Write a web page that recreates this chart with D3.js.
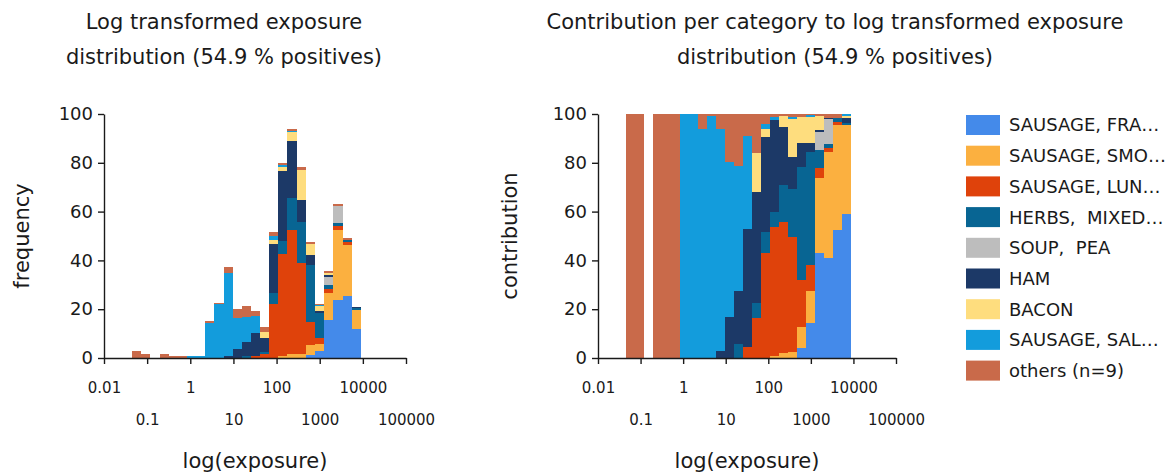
<!DOCTYPE html>
<html>
<head>
<meta charset="utf-8">
<script src="https://cdn.jsdelivr.net/npm/d3@7"></script>
<style>
  body { margin: 0; background: #fff; }
  text { font-family: "DejaVu Sans", Verdana, sans-serif; fill: #1a1a1a; }
</style>
</head>
<body>
<svg id="chart" width="1169" height="472"></svg>
<script>
// categories, bottom of the stack first (same order as the legend)
var categories = ["SAUSAGE, FRA…", "SAUSAGE, SMO…", "SAUSAGE, LUN…", "HERBS,  MIXED…",
                  "SOUP,  PEA", "HAM", "BACON", "SAUSAGE, SAL…", "others (n=9)"];
var colors = ["#448aea", "#fbb040", "#df420b", "#086593", "#bdbdbd",
              "#1c3967", "#fedd7e", "#139cdc", "#c96a4a"];

// lower/upper edges of the histogram bins, in log10(exposure)
var binEdges = [-1.35, -1.14, -0.93, -0.71, -0.50, -0.29, -0.08, 0.13, 0.35, 0.56, 0.77, 0.98, 1.19,
                1.41, 1.62, 1.83, 2.04, 2.25, 2.47, 2.68, 2.89, 3.10, 3.31, 3.53, 3.74, 3.95];

var xTicks = [0.01, 0.1, 1, 10, 100, 1000, 10000, 100000];
var xTickLabels = ["0.01", "0.1", "1", "10", "100", "1000", "10000", "100000"];
var yTicks = [0, 20, 40, 60, 80, 100];

// left panel: frequency per bin and category
var freqFra    = [0,0,0,0,0,0,0,0,0,0,0,0,0,0,0,0,0,0,0,1.1,3,15.5,23.8,25.5,12];
var freqSmo    = [0,0,0,0,0,0,0,0,0,0,0,0,0,0,0,0,0.8,1.5,1.5,4.4,2.9,11.3,28.7,20.8,7.7];
var freqLun    = [0,0,0,0,0,0,0,0,0,0,0,0,0,0.7,1.8,22,42,51,37.3,9.3,2.4,1.5,1.4,1.4,0];
var freqHerbs  = [0,0,0,0,0,0,0,0,0,0,0,0,1,0,0.8,4.6,5,13.2,17.1,23.2,10.2,1.8,1.6,0.6,0.6];
var freqSoup   = [0,0,0,0,0,0,0,0,0,0,0,0,0,0,0,0,0,0,0,0,0,3.2,6.8,0,0];
var freqHam    = [0,0,0,0,0,0,0,0,0,0,0.7,3.6,5.5,9.6,5.5,20.2,29,23.2,8.9,4.1,0.8,0.6,0,0,0.5];
var freqBacon  = [0,0,0,0,0,0,0,0,0,0,0,0,0,0,2.5,1.4,1.4,3.6,12.3,4.8,2.2,1,0,0,0];
var freqSal    = [0,0,0,0,0,0,0.8,0.8,14.3,22,34,12.7,10.3,6.8,0,1.6,0.8,0.7,0,0,0.3,0,0,0,0.2];
var freqOthers = [3,1.5,0,1.5,0.8,0.8,0,0,0.7,0.7,2.7,3.7,4.7,2.1,2.2,1.8,0.8,0.7,1,0.7,0.2,0.8,0.7,0.8,0];

// right panel: contribution (%) per bin and category
var contFra    = [0,0,0,0,0,0,0,0,0,0,0,0,0,0,0,0,0,0,0,4,14.2,42.9,40.8,52.5,58.9];
var contSmo    = [0,0,0,0,0,0,0,0,0,0,0,0,0,0,0,0,0.8,2,2.5,8.9,13.3,30.7,43.7,43,36.6];
var contLun    = [0,0,0,0,0,0,0,0,0,0,0,0,0,4.5,16.3,42.9,53,53.7,47.1,19.1,10.7,4.1,1.4,1.4,0];
var contHerbs  = [0,0,0,0,0,0,0,0,0,0,0,0,5.6,0,6.1,8.9,6,15,19.8,46.4,46.4,7.5,2,1.4,1];
var contSoup   = [0,0,0,0,0,0,0,0,0,0,0,0,0,0,0,0,0,0,0,0,0,7.5,10.2,0,0];
var contHam    = [0,0,0,0,0,0,0,0,0,0,3,17,21.9,48.5,45.8,38.9,37.6,23.9,13,9.6,3.4,0.7,0.3,0,2];
var contBacon  = [0,0,0,0,0,0,0,0,0,0,0,0,0,0,15.7,3.2,0,4.5,15.7,10.9,10.9,5.6,0,0,0.5];
var contSal    = [0,0,0,0,0,0,100,100,93.8,99.2,90.8,63.5,51.3,38,0,1.8,1.4,0,0.8,0,0.5,0,0,0,1];
var contOthers = [100,100,0,100,100,100,0,0,6.2,0.8,6.2,19.5,21.2,9,16.1,4.3,1.2,0.9,1.1,1.1,0.6,1,1.6,1.7,0];

var freqSeries = [freqFra, freqSmo, freqLun, freqHerbs, freqSoup, freqHam, freqBacon, freqSal, freqOthers];
var contSeries = [contFra, contSmo, contLun, contHerbs, contSoup, contHam, contBacon, contSal, contOthers];

var svg = d3.select("#chart");

function drawPanel(p) {
    var x = d3.scaleLog().domain([0.01, 100000]).range([p.left, p.right]);
    var y = d3.scaleLinear().domain([0, 100]).range([358, 114]);

    // one row per bin, one column per category
    var rows = binEdges.slice(0, -1).map(function(e, i) {
        var r = {x0: Math.pow(10, e), x1: Math.pow(10, binEdges[i + 1])};
        categories.forEach(function(c, j) { r[c] = p.series[j][i]; });
        return r;
    });
    var stacked = d3.stack().keys(categories)(rows);

    var g = svg.append("g");
    g.selectAll("g.layer")
        .data(stacked)
        .enter().append("g")
        .attr("class", "layer")
        .attr("fill", function(d, i) { return colors[i]; })
        .selectAll("rect")
        .data(function(d) { return d.filter(function(s) { return s[1] - s[0] > 0; }); })
        .enter().append("rect")
        .attr("shape-rendering", "crispEdges")
        .attr("x", function(d) { return x(d.data.x0); })
        .attr("width", function(d) { return x(d.data.x1) - x(d.data.x0); })
        .attr("y", function(d) { return y(d[1]); })
        .attr("height", function(d) { return y(d[0]) - y(d[1]); });

    // axes
    var ya = g.append("g")
        .attr("transform", "translate(" + p.left + ",0)")
        .call(d3.axisLeft(y).tickValues(yTicks).tickSize(6).tickSizeOuter(0).tickPadding(5));
    ya.attr("font-size", 18).attr("font-family", null).attr("color", "#1a1a1a");

    var xa = g.append("g")
        .attr("transform", "translate(0,358)")
        .call(d3.axisBottom(x).tickValues(xTicks).tickSize(6).tickSizeOuter(0)
            .tickFormat(function(d, i) { return xTickLabels[i]; }));
    xa.attr("font-size", 15).attr("font-family", null).attr("color", "#1a1a1a");
    xa.selectAll(".tick text")
        .attr("y", function(d, i) { return i % 2 ? 62 : 30; })
        .attr("dy", "0.35em");
    g.selectAll(".domain, .tick line").attr("stroke-width", 1.4);

    // titles and axis labels
    svg.append("g").selectAll("text")
        .data(p.title)
        .enter().append("text")
        .attr("x", p.titleX)
        .attr("y", function(d, i) { return 29 + i * 35; })
        .attr("text-anchor", "middle")
        .attr("font-size", 21)
        .text(function(d) { return d; });

    svg.append("text")
        .attr("x", (p.left + p.right) / 2)
        .attr("y", 468)
        .attr("text-anchor", "middle")
        .attr("font-size", 21)
        .text("log(exposure)");

    svg.append("text")
        .attr("transform", "translate(" + p.yLabelX + ",236) rotate(-90)")
        .attr("text-anchor", "middle")
        .attr("dy", "0.35em")
        .attr("font-size", 21)
        .text(p.yLabel);
}

drawPanel({
    left: 104, right: 406, series: freqSeries,
    title: ["Log transformed exposure", "distribution (54.9 % positives)"], titleX: 224,
    yLabel: "frequency", yLabelX: 22
});

drawPanel({
    left: 598, right: 896, series: contSeries,
    title: ["Contribution per category to log transformed exposure", "distribution (54.9 % positives)"], titleX: 835,
    yLabel: "contribution", yLabelX: 510
});

// legend
var legend = svg.append("g").attr("transform", "translate(966,115)");
var item = legend.selectAll("g")
    .data(categories)
    .enter().append("g")
    .attr("transform", function(d, i) { return "translate(0," + i * 30.7 + ")"; });
item.append("rect")
    .attr("width", 34).attr("height", 20)
    .attr("fill", function(d, i) { return colors[i]; });
item.append("text")
    .attr("x", 43).attr("y", 10).attr("dy", "0.36em")
    .attr("font-size", 18)
    .style("white-space", "pre")
    .text(function(d) { return d; });
</script>
</body>
</html>
